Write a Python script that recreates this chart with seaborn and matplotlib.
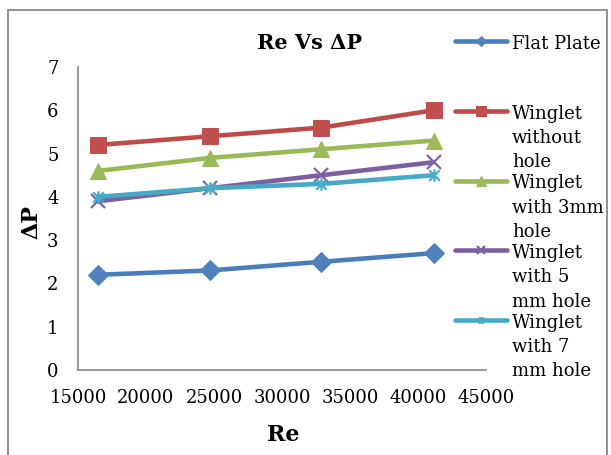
import matplotlib
matplotlib.use("Agg")
import numpy as np
import pandas as pd
import seaborn as sns
import matplotlib.pyplot as plt
from matplotlib.path import Path
from matplotlib.patches import Rectangle

# ---- data ----
re_values = [16500, 24700, 32900, 41150]
flat_plate = [2.2, 2.3, 2.5, 2.7]
winglet_without_hole = [5.2, 5.4, 5.6, 6.0]
winglet_3mm_hole = [4.6, 4.9, 5.1, 5.3]
winglet_5mm_hole = [3.9, 4.2, 4.5, 4.8]
winglet_7mm_hole = [4.0, 4.2, 4.3, 4.5]
series_labels = ["Flat Plate\n\n", "Winglet\nwithout\nhole", "Winglet\nwith 3mm\nhole",
                 "Winglet\nwith 5\nmm hole", "Winglet\nwith 7\nmm hole"]
x_ticks = [15000, 20000, 25000, 30000, 35000, 40000, 45000]
y_ticks = [0, 1, 2, 3, 4, 5, 6, 7]
title_text = "Re Vs ΔP"
x_label = "Re"
y_label = "ΔP"

sns.set_theme(style="white")
plt.rcParams['font.family'] = ['DejaVu Serif', 'DejaVu Sans']
plt.rcParams['text.color'] = 'black'
plt.rcParams['xtick.color'] = 'black'
plt.rcParams['ytick.color'] = 'black'

star = Path([(-1, -1), (1, 1), (-1, 1), (1, -1), (0, -1.2), (0, 1.2)],
            [Path.MOVETO, Path.LINETO, Path.MOVETO, Path.LINETO, Path.MOVETO, Path.LINETO])

styles = [
    dict(color="#4A7EBB", marker="D", markersize=10, mfc="#4F81BD", mec="#4F81BD"),
    dict(color="#BE4B48", marker="s", markersize=12, mfc="#C0504D", mec="#C0504D"),
    dict(color="#98B954", marker="^", markersize=12, mfc="#9BBB59", mec="#9BBB59"),
    dict(color="#7D60A0", marker="x", markersize=10, mfc="none", mec="#8064A2", mew=1.6),
    dict(color="#46AAC5", marker=star, markersize=9, mfc="none", mec="#4BACC6", mew=1.6),
]
all_series = [flat_plate, winglet_without_hole, winglet_3mm_hole, winglet_5mm_hole, winglet_7mm_hole]

fig = plt.figure(figsize=(6.11, 4.55), dpi=100)
ax = fig.add_axes([78 / 611, 1 - 370 / 455, (486 - 78) / 611, (370 - 67) / 455])

handles = []
for vals, st in zip(all_series, styles):
    df = pd.DataFrame({"Re": re_values, "dP": vals})
    sns.lineplot(data=df, x="Re", y="dP", ax=ax, lw=3.3, **st)
    handles.append(ax.get_lines()[-1])

ax.set_xlim(15000, 45000)
ax.set_ylim(0, 7)
ax.set_xticks(x_ticks)
ax.set_yticks(y_ticks)
ax.set_xticklabels([str(v) for v in x_ticks])
ax.set_yticklabels([str(v) for v in y_ticks])
ax.tick_params(axis="both", length=0, labelsize=13, colors="black")
ax.tick_params(axis="x", pad=14)
ax.tick_params(axis="y", pad=14)
ax.set_xlabel("")
ax.set_ylabel("")
for s in ["top", "right"]:
    ax.spines[s].set_visible(False)
for s in ["left", "bottom"]:
    ax.spines[s].set_color("#868686")
    ax.spines[s].set_linewidth(1.2)

fig.text(309 / 611, 1 - 43 / 455, title_text, ha="center", va="center",
         fontsize=15, fontweight="bold", color="black")
fig.text(283 / 611, 1 - 435 / 455, x_label, ha="center", va="center",
         fontsize=16, fontweight="bold", color="black")
fig.text(31 / 611, 1 - 222 / 455, y_label, ha="center", va="center",
         fontsize=16, fontweight="bold", rotation=90, color="black")

leg = ax.legend(handles, series_labels, loc="upper left",
                bbox_to_anchor=(455 / 611, 1 - 35 / 455), bbox_transform=fig.transFigure,
                frameon=False, borderpad=0, borderaxespad=0, handlelength=2.9,
                handletextpad=0.25, labelspacing=0.17, markerscale=0.55, fontsize=13)
for t in leg.get_texts():
    t.set_linespacing(1.45)
    t.set_color("black")
try:
    for col in leg._legend_handle_box.get_children():
        for row in col.get_children():
            row.align = "top"
except Exception:
    pass

fig.patches.append(Rectangle((8 / 611, -0.2), 599 / 611, 1.2 - 10 / 455,
                             transform=fig.transFigure, fill=False,
                             edgecolor="#898989", linewidth=1.3, clip_on=False))

fig.savefig("out.png", dpi=100)
